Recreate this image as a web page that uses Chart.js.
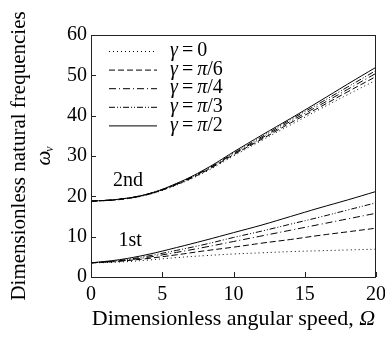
<!DOCTYPE html>
<html>
<head>
<meta charset="utf-8">
<script src="https://cdn.jsdelivr.net/npm/chart.js@4"></script>
<style>
  body { margin: 0; background: #fff; }
  #wrap { width: 385px; height: 338px; }
</style>
</head>
<body>
<div id="wrap"><canvas id="freq-chart" width="385" height="338"></canvas></div>
<script>
// dimensionless angular speed
const omega = [0, 2, 4, 6, 8, 10, 12, 14, 16, 18, 20];

// 1st mode, per gamma
const first0   = [3.5, 3.7, 4.2, 4.8, 5.3, 5.7, 6.0, 6.3, 6.5, 6.7, 6.9];
const firstPi6 = [3.5, 3.9, 4.6, 5.5, 6.5, 7.4, 8.4, 9.3, 10.3, 11.2, 12.1];
const firstPi4 = [3.5, 4.0, 4.9, 6.1, 7.4, 8.8, 10.2, 11.6, 13.0, 14.4, 15.8];
const firstPi3 = [3.5, 4.1, 5.2, 6.6, 8.1, 9.8, 11.4, 13.1, 14.8, 16.6, 18.4];
const firstPi2 = [3.5, 4.3, 5.6, 7.3, 9.1, 11.0, 12.9, 15.0, 17.1, 19.1, 21.2];

// 2nd mode, per gamma
const second0   = [18.8, 19.2, 20.4, 22.8, 26.0, 30.0, 33.9, 37.7, 41.5, 45.2, 48.8];
const secondPi6 = [18.8, 19.2, 20.5, 22.9, 26.2, 30.3, 34.2, 38.2, 42.0, 45.9, 49.7];
const secondPi4 = [18.8, 19.3, 20.5, 23.0, 26.4, 30.5, 34.5, 38.6, 42.5, 46.5, 50.5];
const secondPi3 = [18.8, 19.3, 20.6, 23.1, 26.5, 30.7, 34.8, 39.0, 43.0, 47.1, 51.2];
const secondPi2 = [18.8, 19.3, 20.6, 23.2, 26.7, 31.0, 35.2, 39.3, 43.5, 47.8, 52.0];

const legendLabels = [["0", ""], ["π", "/6"], ["π", "/4"], ["π", "/3"], ["π", "/2"]];
const dashes = [[1, 3], [6, 3], [7, 3, 1, 3], [6, 2, 1, 2, 1, 2], []];
const xTicks = [0, 5, 10, 15, 20];
const yTicks = [0, 10, 20, 30, 40, 50, 60];

const serif = '"Liberation Serif", "Times New Roman", serif';

function toPoints(values) {
    return values.map((v, i) => ({ x: omega[i], y: v }));
}

function makeDataset(values, dash) {
    return {
        data: toPoints(values),
        borderColor: "#000",
        borderWidth: 1,
        borderDash: dash,
        pointRadius: 0,
        tension: 0.4,
        fill: false
    };
}

const firstSeries = [first0, firstPi6, firstPi4, firstPi3, firstPi2];
const secondSeries = [second0, secondPi6, secondPi4, secondPi3, secondPi2];
const datasets = [];
firstSeries.forEach((s, i) => datasets.push(makeDataset(s, dashes[i])));
secondSeries.forEach((s, i) => datasets.push(makeDataset(s, dashes[i])));

// ticks pointing inward, frame, legend and titles
const decorations = {
    id: "decorations",
    afterDraw(chart) {
        const ctx = chart.ctx;
        const area = chart.chartArea;
        const xs = chart.scales.x;
        const ys = chart.scales.y;
        ctx.save();
        ctx.strokeStyle = "#222";
        ctx.lineWidth = 1;
        ctx.setLineDash([]);
        ctx.strokeRect(area.left + 0.5, area.top + 0.5, area.right - area.left - 1, area.bottom - area.top);

        ctx.beginPath();
        xTicks.forEach(t => {
            const px = Math.round(xs.getPixelForValue(t)) + 0.5;
            ctx.moveTo(px, area.bottom);
            ctx.lineTo(px, area.bottom - 5);
        });
        yTicks.forEach(t => {
            const py = Math.round(ys.getPixelForValue(t)) + 0.5;
            ctx.moveTo(area.left, py);
            ctx.lineTo(area.left + 5, py);
        });
        ctx.stroke();

        // legend
        ctx.fillStyle = "#000";
        ctx.textBaseline = "middle";
        legendLabels.forEach((lab, i) => {
            const y = area.top + 16 + i * 18.6;
            ctx.strokeStyle = "#000";
            ctx.setLineDash(dashes[i]);
            ctx.beginPath();
            ctx.moveTo(109, y + 0.5);
            ctx.lineTo(157, y + 0.5);
            ctx.stroke();
            ctx.setLineDash([]);
            let x = 170;
            ctx.font = "italic 20px " + serif;
            ctx.fillText("γ", x, y);
            x += ctx.measureText("γ").width + 4;
            ctx.font = "20px " + serif;
            ctx.fillText("=", x, y);
            x += ctx.measureText("=").width + 4;
            if (lab[0] === "π") {
                ctx.font = "italic 20px " + serif;
                ctx.fillText("π", x, y);
                x += ctx.measureText("π").width;
                ctx.font = "20px " + serif;
                ctx.fillText(lab[1], x, y);
            } else {
                ctx.font = "20px " + serif;
                ctx.fillText(lab[0], x, y);
            }
        });

        // mode labels
        ctx.font = "20px " + serif;
        ctx.textAlign = "center";
        ctx.fillText("2nd", xs.getPixelForValue(2.6), ys.getPixelForValue(23.9));
        ctx.fillText("1st", xs.getPixelForValue(2.75), ys.getPixelForValue(9));

        // x title
        const xt = "Dimensionless angular speed, ";
        ctx.font = "22px " + serif;
        const w1 = ctx.measureText(xt).width;
        ctx.font = "italic 22px " + serif;
        const w2 = ctx.measureText("Ω").width;
        let sx = (area.left + area.right) / 2 - (w1 + w2) / 2;
        ctx.textAlign = "left";
        ctx.font = "22px " + serif;
        ctx.fillText(xt, sx, 319);
        ctx.font = "italic 22px " + serif;
        ctx.fillText("Ω", sx + w1, 319);

        // y title
        ctx.translate(19, (area.top + area.bottom) / 2);
        ctx.rotate(-Math.PI / 2);
        ctx.textAlign = "center";
        ctx.font = "21px " + serif;
        ctx.fillText("Dimensionless natural frequencies", 0, 0);
        ctx.font = "italic 21px " + serif;
        ctx.fillText("ω", -2, 25);
        ctx.font = "italic 12px " + serif;
        ctx.fillText("v", 7, 31);
        ctx.restore();
    }
};

new Chart(document.getElementById("freq-chart"), {
    type: "line",
    data: { datasets: datasets },
    options: {
        responsive: false,
        animation: false,
        layout: { padding: { top: 35, right: 9, left: 0, bottom: 0 } },
        plugins: {
            legend: { display: false },
            tooltip: { enabled: false }
        },
        scales: {
            x: {
                type: "linear",
                min: 0,
                max: 20,
                afterFit(scale) {
                    scale.height = 61;
                    scale.paddingLeft = 0;
                    scale.paddingRight = 0;
                },
                afterBuildTicks(scale) { scale.ticks = xTicks.map(v => ({ value: v })); },
                grid: { display: false, drawTicks: false },
                border: { display: false },
                ticks: { color: "#000", padding: 6, maxRotation: 0, font: { family: serif, size: 20 } }
            },
            y: {
                min: 0,
                max: 60,
                afterFit(scale) {
                    scale.width = 91;
                    scale.paddingTop = 0;
                    scale.paddingBottom = 0;
                },
                afterBuildTicks(scale) { scale.ticks = yTicks.map(v => ({ value: v })); },
                grid: { display: false, drawTicks: false },
                border: { display: false },
                ticks: { color: "#000", padding: 4, font: { family: serif, size: 20 } }
            }
        }
    },
    plugins: [decorations]
});
</script>
</body>
</html>
